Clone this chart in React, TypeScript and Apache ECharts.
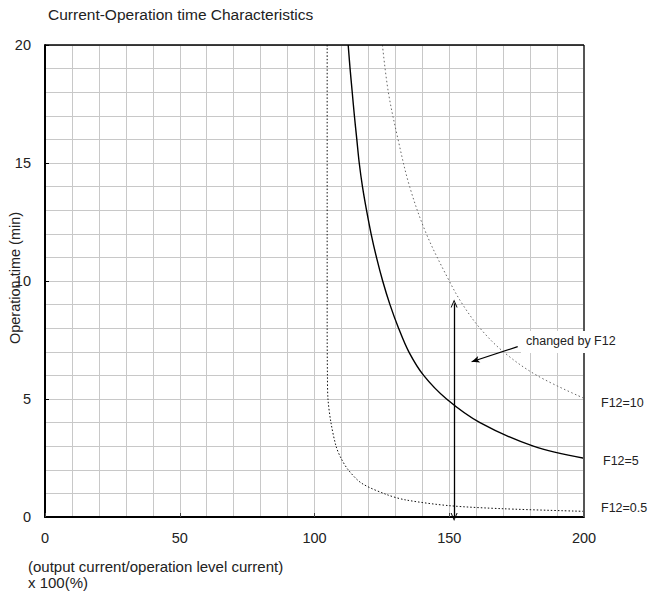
import React, { useEffect, useRef } from "react";
import * as echarts from "echarts";

// Operation time curves (x: current %, y: minutes)
const f05X = [104.7, 104.7, 104.7, 104.8, 105.0, 106.1, 108.0, 109.8, 112.5, 117.5, 126.8, 134.0, 150.0, 170.0, 200.0];
const f05Y = [20, 12, 8, 6, 5, 4, 3, 2.5, 2, 1.43, 0.95, 0.72, 0.48, 0.35, 0.24];

const f5X = [112.5, 113.2, 114.0, 114.8, 115.7, 116.6, 117.8, 119.3, 121.0, 123.0, 125.3, 128.0, 131.2, 135.0, 140.5, 149.0, 161.4, 181.2, 200.0];
const f5Y = [20, 19, 18, 17, 16, 15, 14, 13, 12, 11, 10, 9, 8, 7, 6, 5, 4, 3, 2.49];

const f10X = [125.2, 127.4, 131.0, 135.3, 141.5, 150.0, 155.0, 161.4, 170.1, 182.5, 200.0];
const f10Y = [20, 18, 16, 14, 12, 10, 9, 8, 7, 6, 5.03];

const seriesNames = ["F12=0.5", "F12=5", "F12=10"];

// annotation arrows (data coordinates)
const rangeArrow = { x: 151.8, y0: 0, y1: 9.05 };
const noteArrow = { fromX: 175.4, fromY: 7.22, toX: 158.3, toY: 6.58 };

const xTicks = [0, 50, 100, 150, 200];
const yTicks = [0, 5, 10, 15, 20];

const zip = (xs: number[], ys: number[]) => xs.map((x, i) => [x, ys[i]]);

const FONT = "Liberation Sans, Arial, sans-serif";
const chevron = "path://M0,10 L5,0 L10,10 L8.6,10 L5,2.8 L1.4,10 Z";

export default function App() {
  const ref = useRef<HTMLDivElement>(null);
  useEffect(() => {
    if (!ref.current) return;
    const chart = echarts.init(ref.current, null, { renderer: "svg" });
    const gridColor = "#c8c8c8";
    chart.setOption({
      animation: false,
      backgroundColor: "#fff",
      title: {
        text: "Current-Operation time Characteristics",
        left: 48,
        top: 6,
        padding: 0,
        textStyle: { fontSize: 15.5, fontWeight: "normal", color: "#222", fontFamily: FONT },
      },
      grid: { left: 45, top: 45, width: 539, height: 472, containLabel: false },
      xAxis: {
        type: "value",
        min: xTicks[0],
        max: xTicks[xTicks.length - 1],
        interval: 50,
        axisLine: { show: true, onZero: false, lineStyle: { color: "#000", width: 2 } },
        axisTick: { show: true, inside: true, length: 4, lineStyle: { color: "#444" } },
        axisLabel: { margin: 13, fontSize: 14.5, color: "#222", fontFamily: FONT },
        splitLine: { show: true, lineStyle: { color: gridColor, width: 1 } },
        minorTick: { show: false, splitNumber: 5 },
        minorSplitLine: { show: true, lineStyle: { color: gridColor, width: 1 } },
      },
      yAxis: {
        type: "value",
        min: yTicks[0],
        max: yTicks[yTicks.length - 1],
        interval: 5,
        axisLine: { show: true, onZero: false, lineStyle: { color: "#000", width: 2 } },
        axisTick: { show: true, inside: true, length: 4, lineStyle: { color: "#000" } },
        axisLabel: { margin: 14, fontSize: 14.5, color: "#222", fontFamily: FONT },
        splitLine: { show: true, lineStyle: { color: gridColor, width: 1 } },
        minorTick: { show: false, splitNumber: 5 },
        minorSplitLine: { show: true, lineStyle: { color: gridColor, width: 1 } },
      },
      graphic: [
        {
          type: "text",
          left: 28,
          top: 558,
          style: {
            text: "(output current/operation level current)\nx 100(%)",
            fontSize: 15,
            lineHeight: 16.5,
            fill: "#222",
            fontFamily: FONT,
          },
        },
        {
          type: "text",
          x: 15,
          y: 278,
          rotation: Math.PI / 2,
          style: {
            text: "Operation time (min)",
            fontSize: 14.5,
            fill: "#222",
            fontFamily: FONT,
            align: "center",
            verticalAlign: "middle",
          },
        },
        {
          type: "text",
          left: 521,
          top: 331,
          z: 100,
          style: {
            text: "changed by F12",
            fontSize: 12.5,
            fill: "#222",
            fontFamily: FONT,
            backgroundColor: "#fff",
            padding: [3, 5, 6, 5],
          },
        },
      ],
      series: [
        {
          name: seriesNames[0],
          type: "line",
          data: zip(f05X, f05Y),
          showSymbol: false,
          smooth: 0.3,
          lineStyle: { color: "#111", width: 1, type: [1.5, 2] },
          endLabel: {
            show: true,
            formatter: seriesNames[0],
            distance: 17,
            offset: [0, -3],
            fontSize: 12.5,
            color: "#222",
            fontFamily: FONT,
          },
        },
        {
          name: seriesNames[1],
          type: "line",
          data: zip(f5X, f5Y),
          showSymbol: false,
          smooth: 0.35,
          lineStyle: { color: "#000", width: 1.4 },
          endLabel: {
            show: true,
            formatter: seriesNames[1],
            distance: 19,
            offset: [0, 3],
            fontSize: 12.5,
            color: "#222",
            fontFamily: FONT,
          },
          markLine: {
            silent: true,
            animation: false,
            label: { show: false },
            data: [
              [
                { coord: [rangeArrow.x, rangeArrow.y0], symbol: chevron, symbolSize: [7, 8] },
                { coord: [rangeArrow.x, rangeArrow.y1], symbol: chevron, symbolSize: [7, 8], lineStyle: { color: "#000", width: 1.3, type: "solid" } },
              ],
              [
                { coord: [noteArrow.fromX, noteArrow.fromY], symbol: "none" },
                { coord: [noteArrow.toX, noteArrow.toY], symbol: "arrow", symbolSize: [5, 8], lineStyle: { color: "#000", width: 1.2, type: "solid" } },
              ],
              [
                { coord: [200, 0], symbol: "none" },
                { coord: [200, 20], symbol: "none", lineStyle: { color: "#555", width: 2, type: "solid" } },
              ],
              [
                { coord: [0, 20], symbol: "none" },
                { coord: [200, 20], symbol: "none", lineStyle: { color: "#000", width: 1.5, type: "solid" } },
              ],
            ],
          },
        },
        {
          name: seriesNames[2],
          type: "line",
          data: zip(f10X, f10Y),
          showSymbol: false,
          smooth: 0.35,
          lineStyle: { color: "#666", width: 1, type: [1.5, 2.5] },
          endLabel: {
            show: true,
            formatter: seriesNames[2],
            distance: 17,
            offset: [0, 5],
            fontSize: 12.5,
            color: "#222",
            fontFamily: FONT,
          },
        },
      ],
    });
    return () => chart.dispose();
  }, []);
  return (
    <div
      ref={ref}
      style={{ position: "absolute", left: 0, top: 0, width: 648, height: 592 }}
    />
  );
}
